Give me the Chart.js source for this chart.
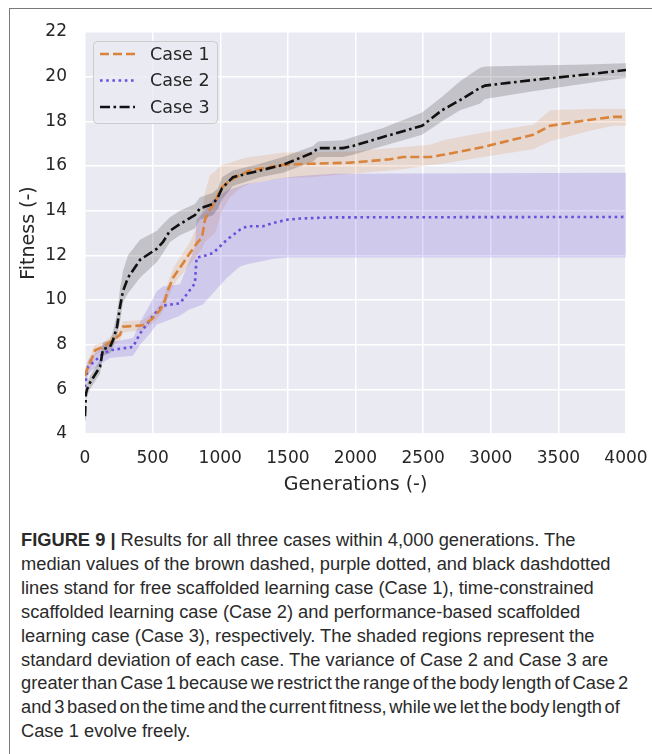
<!DOCTYPE html>
<html>
<head>
<meta charset="utf-8">
<script src="https://cdn.jsdelivr.net/npm/chart.js@4.4.1/dist/chart.umd.min.js"></script>
<style>
  html, body { margin: 0; padding: 0; background: #fff; }
  body { width: 652px; height: 754px; position: relative; overflow: hidden; }
  #frame { position: absolute; left: 9px; top: 8px; right: -2px; bottom: -2px;
           border-top: 1.5px solid #7a7a7a; border-left: 1.5px solid #7a7a7a; }
  #plot { position: absolute; left: 0; top: 0; }
  #caption { position: absolute; left: 21px; top: 528px; color: #2a2a2a;
             font-family: "Liberation Sans", Arial, sans-serif;
             font-size: 18.3px; line-height: 23.9px; white-space: nowrap; }
  #caption b { font-weight: bold; }
</style>
</head>
<body>
<div id="frame"></div>
<canvas id="plot" width="652" height="500"></canvas>
<div id="caption">
  <div><b>FIGURE 9 |</b> Results for all three cases within 4,000 generations. The</div>
  <div>median values of the brown dashed, purple dotted, and black dashdotted</div>
  <div>lines stand for free scaffolded learning case (Case 1), time-constrained</div>
  <div>scaffolded learning case (Case 2) and performance-based scaffolded</div>
  <div>learning case (Case 3), respectively. The shaded regions represent the</div>
  <div>standard deviation of each case. The variance of Case 2 and Case 3 are</div>
  <div style="word-spacing:-2.2px">greater than Case 1 because we restrict the range of the body length of Case 2</div>
  <div style="word-spacing:-2.4px">and 3 based on the time and the current fitness, while we let the body length of</div>
  <div>Case 1 evolve freely.</div>
</div>
<script>
  // Case 1: free scaffolded learning
  var gens1 = [0, 15, 59, 74, 133, 207, 259, 281, 429, 495, 555, 592, 614, 651, 680, 725, 776, 828, 865, 887, 924, 961, 983, 1013, 1072, 1146, 1220, 1464, 1664, 1959, 2255, 2351, 2551, 2647, 2943, 3313, 3438, 3712, 3904, 4000];
  var med1 = [6.6, 6.9, 7.5, 7.75, 7.9, 8.2, 8.45, 8.8, 8.87, 9.15, 9.55, 10.0, 10.45, 11.0, 11.25, 11.65, 12.1, 12.55, 12.8, 13.6, 14.05, 14.4, 14.7, 15.05, 15.35, 15.6, 15.8, 16.05, 16.1, 16.15, 16.3, 16.4, 16.4, 16.5, 16.85, 17.4, 17.8, 18.05, 18.2, 18.2];
  var up1 = [6.9, 7.2, 7.8, 8.0, 8.1, 8.45, 8.7, 9.05, 9.1, 9.4, 9.8, 10.3, 10.8, 11.4, 11.7, 12.1, 12.6, 13.3, 13.9, 14.8, 15.6, 15.75, 15.9, 16.05, 16.15, 16.3, 16.4, 16.6, 16.62, 16.65, 16.8, 16.85, 16.95, 17.15, 17.5, 17.85, 18.5, 18.55, 18.55, 18.55];
  var lo1 = [6.3, 6.6, 7.2, 7.5, 7.7, 7.95, 8.2, 8.55, 8.65, 8.9, 9.3, 9.7, 10.1, 10.6, 10.9, 11.2, 11.6, 12.0, 12.3, 12.6, 12.8, 13.0, 13.4, 14.0, 14.6, 15.0, 15.2, 15.45, 15.5, 15.65, 15.8, 15.85, 16.05, 16.1, 16.4, 16.75, 17.1, 17.55, 17.8, 17.8];

  // Case 2: time-constrained scaffolded learning
  var gens2 = [0, 22, 133, 185, 355, 407, 480, 532, 577, 702, 776, 813, 825, 872, 946, 1050, 1146, 1198, 1316, 1390, 1502, 1590, 1834, 4000];
  var med2 = [6.1, 7.0, 7.6, 7.75, 7.9, 8.5, 9.1, 9.5, 9.75, 9.85, 10.45, 10.75, 11.9, 11.95, 12.1, 12.7, 13.15, 13.3, 13.3, 13.45, 13.6, 13.65, 13.7, 13.72];
  var up2 = [6.5, 7.3, 8.0, 8.1, 8.3, 9.0, 9.8, 10.4, 10.6, 10.7, 11.8, 12.4, 13.6, 13.9, 14.5, 14.9, 15.1, 15.2, 15.3, 15.4, 15.5, 15.55, 15.65, 15.7];
  var lo2 = [5.8, 6.7, 7.2, 7.4, 7.5, 8.0, 8.5, 8.9, 9.0, 9.3, 9.6, 9.65, 9.7, 9.8, 10.3, 11.0, 11.5, 11.6, 11.75, 11.85, 11.9, 11.9, 11.9, 11.9];

  // Case 3: performance-based scaffolded learning
  var gens3 = [0, 7, 15, 37, 89, 111, 133, 185, 207, 237, 259, 281, 318, 407, 532, 577, 628, 702, 813, 850, 946, 983, 1013, 1094, 1294, 1464, 1686, 1723, 1908, 1982, 2203, 2492, 2640, 2773, 2921, 2958, 3313, 3712, 4000];
  var med3 = [4.8, 5.8, 6.0, 6.3, 6.8, 7.0, 7.8, 7.9, 8.2, 8.8, 9.7, 10.4, 11.0, 11.8, 12.3, 12.6, 13.1, 13.4, 13.8, 14.1, 14.3, 14.6, 15.0, 15.5, 15.8, 16.05, 16.6, 16.8, 16.8, 16.9, 17.3, 17.8, 18.5, 18.95, 19.5, 19.6, 19.85, 20.1, 20.3];
  var up3 = [5.1, 6.1, 6.3, 6.6, 7.1, 7.3, 8.1, 8.2, 8.6, 9.4, 10.5, 11.3, 12.0, 12.7, 13.1, 13.4, 13.7, 14.0, 14.3, 14.6, 14.8, 15.0, 15.5, 15.8, 16.1, 16.4, 16.9, 17.1, 17.15, 17.3, 17.7, 18.4, 19.1, 19.8, 20.4, 20.45, 20.5, 20.55, 20.6];
  var lo3 = [4.6, 5.5, 5.7, 6.0, 6.5, 6.7, 7.5, 7.6, 7.9, 8.4, 9.0, 9.9, 10.3, 11.0, 11.7, 12.1, 12.6, 12.9, 13.2, 13.6, 13.8, 14.1, 14.5, 15.1, 15.5, 15.7, 16.2, 16.4, 16.4, 16.5, 16.9, 17.4, 18.0, 18.5, 18.8, 19.0, 19.35, 19.7, 19.95];

  var caseLabels = ['Case 1', 'Case 2', 'Case 3'];
  var xTicks = [0, 500, 1000, 1500, 2000, 2500, 3000, 3500, 4000];
  var yTicks = [4, 6, 8, 10, 12, 14, 16, 18, 20, 22];

  var ORANGE = '#d9843a';
  var PURPLE = '#6650dc';
  var BLACK = '#111111';
  var TEXT = '#262626';
  var FONT = '"DejaVu Sans", sans-serif';

  function pts(xs, ys) {
    return xs.map(function (x, i) { return { x: x, y: ys[i] }; });
  }

  function band(xs, ys, color, order) {
    return { data: pts(xs, ys), borderWidth: 0, pointRadius: 0, borderColor: 'rgba(0,0,0,0)',
             backgroundColor: color, order: order };
  }

  function noLabelPadding(s) {
    s.paddingLeft = 0; s.paddingRight = 0; s.paddingTop = 0; s.paddingBottom = 0;
  }

  var styles = [
    { color: ORANGE, dash: [9, 4], width: 2.6 },
    { color: PURPLE, dash: [2.6, 3.6], width: 2.6 },
    { color: BLACK, dash: [10, 3.5, 2.6, 3.5], width: 2.6 }
  ];

  var datasets = [
    { label: caseLabels[2], data: pts(gens3, med3), borderColor: BLACK, borderDash: styles[2].dash, borderWidth: 2.6, pointRadius: 0, fill: false, order: 0 },
    { label: caseLabels[0], data: pts(gens1, med1), borderColor: ORANGE, borderDash: styles[0].dash, borderWidth: 2.6, pointRadius: 0, fill: false, order: 1 },
    { label: caseLabels[1], data: pts(gens2, med2), borderColor: PURPLE, borderDash: styles[1].dash, borderWidth: 2.6, pointRadius: 0, fill: false, order: 2 }
  ];
  var b1u = band(gens1, up1, 'rgba(221,132,60,0.18)', 5);
  var b1l = band(gens1, lo1, 'rgba(221,132,60,0.18)', 5);
  var b2u = band(gens2, up2, 'rgba(100,72,215,0.2)', 4);
  var b2l = band(gens2, lo2, 'rgba(100,72,215,0.2)', 4);
  var b3u = band(gens3, up3, 'rgba(20,20,20,0.19)', 3);
  var b3l = band(gens3, lo3, 'rgba(20,20,20,0.19)', 3);
  b1u.fill = false; b1l.fill = 3;
  b2u.fill = false; b2l.fill = 5;
  b3u.fill = false; b3l.fill = 7;
  datasets.push(b1u, b1l, b2u, b2l, b3u, b3l);

  var plotBg = {
    id: 'plotBg',
    beforeDraw: function (chart) {
      var a = chart.chartArea, ctx = chart.ctx;
      ctx.save();
      ctx.fillStyle = '#eaeaf2';
      ctx.fillRect(a.left, a.top, a.right - a.left, a.bottom - a.top);
      ctx.restore();
    }
  };

  var boxLegend = {
    id: 'boxLegend',
    afterDraw: function (chart) {
      var ctx = chart.ctx;
      var x0 = 93.5, y0 = 41.5, w = 124, h = 82, r = 4;
      ctx.save();
      ctx.beginPath();
      ctx.moveTo(x0 + r, y0);
      ctx.arcTo(x0 + w, y0, x0 + w, y0 + h, r);
      ctx.arcTo(x0 + w, y0 + h, x0, y0 + h, r);
      ctx.arcTo(x0, y0 + h, x0, y0, r);
      ctx.arcTo(x0, y0, x0 + w, y0, r);
      ctx.closePath();
      ctx.fillStyle = 'rgba(234,234,242,0.8)';
      ctx.fill();
      ctx.strokeStyle = '#cccccc';
      ctx.lineWidth = 1;
      ctx.stroke();
      var rows = [54, 80.5, 107];
      for (var i = 0; i < 3; i++) {
        var s = styles[i];
        ctx.beginPath();
        ctx.setLineDash(s.dash);
        ctx.lineWidth = s.width;
        ctx.strokeStyle = s.color;
        ctx.moveTo(100, rows[i]);
        ctx.lineTo(135, rows[i]);
        ctx.stroke();
        ctx.setLineDash([]);
        ctx.fillStyle = TEXT;
        ctx.font = '17.5px ' + FONT;
        ctx.textBaseline = 'middle';
        ctx.textAlign = 'left';
        ctx.fillText(caseLabels[i], 150, rows[i] + 1);
      }
      ctx.restore();
    }
  };

  new Chart(document.getElementById('plot').getContext('2d'), {
    type: 'line',
    data: { datasets: datasets },
    options: {
      responsive: false,
      animation: false,
      devicePixelRatio: 1,
      layout: { padding: { left: 0, right: 26, top: 32, bottom: 4 } },
      elements: { line: { tension: 0, borderCapStyle: 'butt' } },
      plugins: {
        legend: { display: false },
        tooltip: { enabled: false },
        filler: { drawTime: 'beforeDatasetsDraw', propagate: false }
      },
      scales: {
        x: {
          type: 'linear', min: 0, max: 4000,
          afterBuildTicks: function (s) { s.ticks = xTicks.map(function (v) { return { value: v }; }); },
          afterFit: function (s) { s.height = 62; noLabelPadding(s); },
          grid: { color: '#ffffff', lineWidth: 1.5, drawTicks: false },
          border: { display: false },
          ticks: { color: TEXT, font: { family: FONT, size: 17 }, padding: 14, maxRotation: 0,
                   callback: function (v) { return String(v); } },
          title: { display: true, text: 'Generations (-)', color: TEXT, font: { family: FONT, size: 19 }, padding: 0 }
        },
        y: {
          min: 4, max: 22,
          afterBuildTicks: function (s) { s.ticks = yTicks.map(function (v) { return { value: v }; }); },
          afterFit: function (s) { s.width = 85; noLabelPadding(s); },
          grid: { color: '#ffffff', lineWidth: 1.5, drawTicks: false },
          border: { display: false },
          ticks: { color: TEXT, font: { family: FONT, size: 17 }, padding: 18,
                   callback: function (v) { return String(v); } },
          title: { display: true, text: 'Fitness (-)', color: TEXT, font: { family: FONT, size: 19 }, padding: { top: 18, bottom: 0 } }
        }
      }
    },
    plugins: [plotBg, boxLegend]
  });
</script>
</body>
</html>
